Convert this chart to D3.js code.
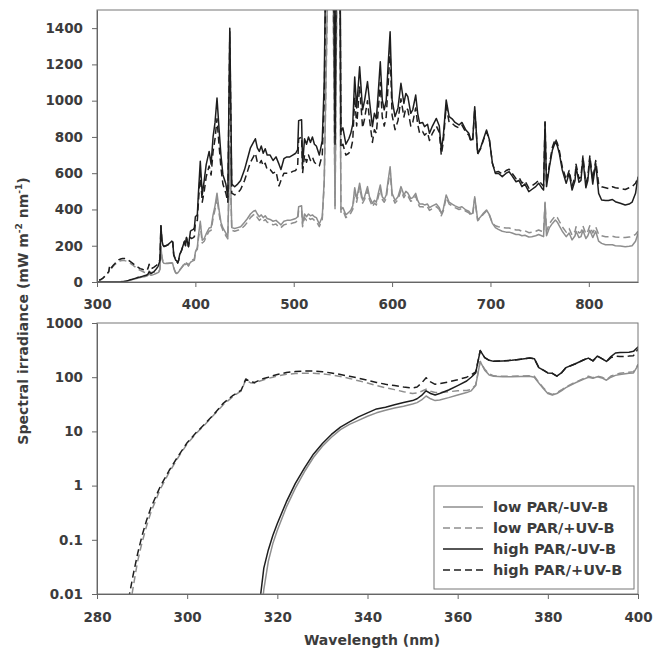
<!DOCTYPE html>
<html>
<head>
<meta charset="utf-8">
<script src="https://cdn.jsdelivr.net/npm/d3@7"></script>
<style>
body { margin: 0; background: #fff; }
svg text { font-family: "DejaVu Sans", sans-serif; font-weight: bold; fill: #3c3c3c; }
.tick text { font-size: 13.5px; }
.axis path, .axis line { stroke: #666; }
</style>
</head>
<body>
<svg id="chart" width="654" height="656"></svg>
<script>
// series, in legend order
var seriesNames = ["low PAR/-UV-B", "low PAR/+UV-B", "high PAR/-UV-B", "high PAR/+UV-B"];

// UV part of the spectra (nm), used by both panels
var uvWavelength = [
  280, 285, 287, 288, 289, 290, 291, 292, 294, 296,
  298, 300, 302, 304, 306, 308, 310, 311, 312, 313,
  314, 315, 316, 317, 318, 319, 320, 322, 324, 326,
  328, 330, 332, 334, 336, 338, 340, 342, 344, 346,
  348, 350, 351, 352, 353, 354, 355, 356, 358, 360,
  362, 363, 364, 365, 366, 367, 368, 370, 372, 374,
  376, 377, 378, 379, 380, 381, 382, 383, 384, 386,
  388, 389, 390, 391, 392, 393, 394, 395, 396, 398,
  399, 400];

var uvLowMinus = [
  0, 0, 0, 0, 0, 0, 0, 0, 0, 0,
  0, 0, 0, 0, 0, 0, 0, 0, 0, 0,
  0, 0, 0.002, 0.012, 0.04, 0.085, 0.15, 0.4, 0.9, 1.8,
  3.3, 5.3, 7.8, 10.8, 13.5, 16, 19, 22, 24.5, 27,
  29, 32, 34, 38, 45, 40, 37, 38, 42, 47,
  52, 56, 70, 195, 135, 110, 104, 102, 102, 103,
  104, 100, 78, 62, 50, 47, 50, 56, 64, 78,
  92, 100, 96, 102, 97, 88, 100, 108, 112, 118,
  120, 165];

var uvLowPlus = [
  0, 0, 0.004, 0.013, 0.04, 0.09, 0.18, 0.33, 0.85, 1.75,
  3.3, 5.9, 9.2, 13.5, 20.5, 31, 43, 49, 56, 90,
  79, 77, 84, 90, 95, 100, 105, 113, 117, 118,
  118, 115, 110, 103, 95, 86, 78, 70, 64, 59,
  54, 50, 51, 55, 60, 55, 52, 52, 54, 56,
  57, 59, 72, 195, 140, 115, 106, 104, 104, 105,
  106, 104, 80, 64, 52, 48, 52, 58, 66, 80,
  95, 104, 98, 105, 100, 90, 105, 112, 118, 124,
  126, 170];

var uvHighMinus = [
  0, 0, 0, 0, 0, 0, 0, 0, 0, 0,
  0, 0, 0, 0, 0, 0, 0, 0, 0, 0,
  0, 0, 0.006, 0.03, 0.065, 0.12, 0.2, 0.5, 1.1, 2.1,
  3.8, 6, 8.8, 12, 15, 18.5, 22, 26, 28, 31,
  34, 37, 40, 46, 56, 50, 47, 50, 58, 70,
  85, 100, 120, 310, 230, 205, 196, 200, 205, 215,
  225, 220, 150, 135, 120, 118, 105, 120, 150, 175,
  210, 225, 200, 245, 220, 195, 240, 280, 285, 290,
  300, 360];

var uvHighPlus = [
  0, 0, 0.008, 0.022, 0.055, 0.12, 0.23, 0.4, 0.95, 1.9,
  3.5, 6.2, 9.5, 14, 21, 33, 45, 51, 58, 93,
  82, 80, 88, 95, 100, 106, 112, 122, 127, 130,
  130, 126, 120, 112, 104, 96, 88, 80, 74, 70,
  66, 63, 66, 78, 98, 82, 74, 76, 82, 90,
  100, 110, 125, 310, 230, 205, 196, 200, 205, 215,
  225, 220, 150, 135, 120, 118, 105, 120, 150, 175,
  210, 225, 200, 245, 220, 195, 230, 245, 240, 245,
  250, 330];

// visible part (nm), top panel only
var visWavelength = [
  402, 403, 405, 407, 409, 411, 414, 416, 418, 420,
  422, 424, 426, 428, 431, 433, 435, 437, 440, 443,
  446, 450, 453, 456, 459, 461, 463, 465, 467, 469,
  471, 473, 476, 479, 482, 485, 487, 490, 493, 496,
  499, 502, 504, 505, 508, 509, 511, 513, 515, 517,
  519, 521, 523, 526, 529, 531, 534, 537, 540, 542,
  544, 546, 548, 550, 553, 556, 558, 560, 562, 564,
  567, 570, 572, 575, 577, 580, 582, 584, 586, 588,
  590, 592, 594, 596, 598, 600, 603, 606, 609, 612,
  614, 616, 619, 621, 624, 626, 628, 631, 633, 636,
  638, 641, 645, 648, 650, 652, 655, 658, 661, 664,
  668, 671, 675, 678, 680, 682, 684, 687, 690, 693,
  696, 699, 702, 705, 708, 712, 716, 719, 722, 726,
  729, 732, 735, 739, 742, 746, 749, 752, 754, 755.5,
  757, 760, 763, 766, 768, 770, 773, 777, 780, 783,
  786, 787, 790, 792, 794, 797, 799, 801, 804, 807,
  810, 813, 817, 820, 824, 827, 832, 837, 841, 844,
  847.5, 850];

var visLowMinus = [
  190, 250, 335, 230, 240, 265, 298, 300, 370, 420,
  490, 400, 330, 298, 270, 250, 750, 300, 295, 300,
  305, 330, 350, 375, 390, 395, 375, 360, 370, 355,
  365, 350, 345, 335, 340, 325, 315, 335, 340, 340,
  345, 350, 360, 415, 420, 320, 375, 360, 375, 365,
  370, 360, 355, 320, 360, 560, 1500, 2400, 1700, 420,
  1800, 2400, 400, 410, 370, 385, 395, 420, 520, 460,
  545, 452, 470, 526, 470, 434, 450, 440, 490, 535,
  470, 455, 480, 560, 636, 489, 450, 470, 526, 480,
  500, 490, 460, 465, 489, 450, 430, 430, 425, 430,
  410, 420, 430, 410, 378, 400, 480, 440, 430, 420,
  410, 415, 397, 390, 375, 380, 470, 342, 360, 380,
  397, 370, 323, 300, 290, 280, 275, 275, 270, 262,
  262, 255, 258, 248, 250, 255, 262, 255, 250, 434,
  255, 300, 323, 342, 330, 310, 280, 250, 270, 232,
  255, 280, 245, 250, 285, 240, 255, 285, 245, 280,
  225, 213, 205, 205, 205, 200, 198, 195, 197, 200,
  225, 268];

var visLowPlus = [
  180, 235, 315, 215, 225, 250, 280, 285, 350, 400,
  465, 380, 315, 285, 255, 238, 730, 285, 280, 285,
  290, 310, 330, 355, 370, 375, 355, 340, 350, 335,
  345, 330, 325, 315, 320, 300, 300, 315, 320, 320,
  325, 330, 340, 395, 400, 305, 355, 340, 355, 345,
  350, 340, 335, 305, 345, 540, 1450, 2300, 1600, 400,
  1700, 2300, 385, 395, 355, 370, 380, 400, 500, 440,
  525, 435, 455, 505, 455, 415, 435, 425, 470, 515,
  455, 440, 460, 540, 615, 470, 435, 455, 505, 465,
  485, 475, 445, 450, 475, 435, 415, 415, 410, 415,
  395, 405, 415, 400, 365, 390, 465, 430, 420, 410,
  400, 405, 390, 382, 368, 372, 460, 338, 355, 375,
  392, 368, 325, 310, 305, 300, 298, 298, 293, 287,
  287, 280, 283, 272, 275, 280, 287, 280, 275, 440,
  280, 322, 345, 365, 355, 335, 305, 275, 295, 258,
  280, 305, 270, 275, 310, 265, 280, 310, 270, 305,
  262, 255, 250, 250, 252, 248, 247, 245, 248, 250,
  262, 280];

var visHighMinus = [
  371, 480, 666, 482, 560, 647, 720, 650, 800, 880,
  1015, 850, 700, 592, 540, 470, 1400, 540, 525, 540,
  560, 620, 680, 740, 770, 790, 740, 720, 750, 710,
  735, 700, 700, 670, 690, 650, 620, 680, 690, 690,
  700, 710, 730, 890, 895, 650, 790, 760, 800, 770,
  800, 760, 750, 700, 780, 1100, 2400, 3000, 2400, 800,
  2500, 3000, 830, 850, 760, 790, 820, 870, 1130, 960,
  1187, 950, 1000, 1105, 1000, 857, 930, 900, 1050, 1215,
  1004, 950, 1000, 1200, 1380, 1004, 912, 960, 1096, 985,
  1040, 1022, 930, 950, 1031, 930, 875, 880, 857, 870,
  820, 860, 902, 860, 728, 800, 1004, 912, 900, 880,
  866, 880, 838, 820, 783, 790, 967, 710, 740, 790,
  838, 783, 654, 599, 600, 581, 600, 608, 585, 553,
  560, 526, 540, 498, 510, 526, 545, 520, 507, 884,
  526, 636, 728, 774, 750, 710, 618, 544, 599, 507,
  560, 636, 550, 560, 682, 520, 560, 682, 540, 654,
  489, 452, 450, 450, 455, 443, 434, 425, 430, 440,
  489, 581];

var visHighPlus = [
  340, 430, 600, 440, 500, 580, 640, 590, 720, 790,
  900, 760, 630, 540, 490, 440, 1380, 490, 480, 490,
  510, 560, 610, 660, 690, 710, 660, 650, 670, 640,
  655, 620, 620, 600, 610, 530, 560, 600, 600, 600,
  610, 615, 640, 790, 800, 600, 700, 660, 700, 670,
  690, 660, 650, 640, 700, 1000, 2300, 2900, 2300, 750,
  2400, 2900, 740, 760, 700, 710, 730, 780, 1020, 860,
  1080, 850, 900, 1000, 900, 770, 840, 820, 950, 1100,
  910, 860, 910, 1090, 1280, 920, 840, 890, 1010, 910,
  960, 950, 860, 880, 960, 870, 820, 830, 810, 825,
  780, 820, 860, 825, 700, 770, 970, 880, 875, 860,
  850, 865, 825, 810, 775, 780, 955, 705, 735, 785,
  830, 780, 655, 605, 610, 595, 615, 622, 600, 570,
  578, 545, 558, 518, 530, 545, 562, 540, 528, 880,
  545, 650, 745, 790, 765, 725, 635, 565, 615, 530,
  580, 650, 570, 580, 695, 545, 580, 695, 565, 670,
  540, 525, 520, 515, 525, 520, 515, 510, 520, 525,
  545, 575];

// tick labels
var topXTicks = [300, 400, 500, 600, 700, 800];
var topYTicks = [0, 200, 400, 600, 800, 1000, 1200, 1400];
var botXTicks = [280, 300, 320, 340, 360, 380, 400];
var botYTicks = [0.01, 0.1, 1, 10, 100, 1000];

var seriesColor = ["#8e8e8e", "#8e8e8e", "#1e1e1e", "#1e1e1e"];
var seriesDash = [null, "7,4", null, "7,4"];

var wavelength = uvWavelength.concat(visWavelength);
var seriesValues = [
  uvLowMinus.concat(visLowMinus),
  uvLowPlus.concat(visLowPlus),
  uvHighMinus.concat(visHighMinus),
  uvHighPlus.concat(visHighPlus)
];
var series = seriesNames.map(function(name, i) {
  return {
    name: name, color: seriesColor[i], dash: seriesDash[i],
    values: wavelength.map(function(w, j) { return {w: w, v: seriesValues[i][j]}; })
  };
});

var svg = d3.select("#chart");
var left = 97, right = 638;

var xTop = d3.scaleLinear().domain([300, 850]).range([left, right]);
var yTop = d3.scaleLinear().domain([0, 1500]).range([282, 10]);
var xBot = d3.scaleLinear().domain([280, 400]).range([left, right]);
var yBot = d3.scaleLog().domain([0.01, 1000]).range([594, 323]);

var defs = svg.append("defs");
defs.append("clipPath").attr("id", "clipTop").append("rect")
  .attr("x", left).attr("y", 10).attr("width", right - left).attr("height", 272);
defs.append("clipPath").attr("id", "clipBot").append("rect")
  .attr("x", left).attr("y", 323).attr("width", right - left).attr("height", 271);

function drawPanel(x, y, clipId, useLog) {
  var line = d3.line()
    .defined(function(d) { return !useLog || d.v > 0; })
    .x(function(d) { return x(d.w); })
    .y(function(d) { return y(d.v); });

  var g = svg.append("g").attr("clip-path", "url(#" + clipId + ")");
  g.selectAll("path")
    .data(series)
    .enter().append("path")
    .attr("fill", "none")
    .attr("stroke", function(d) { return d.color; })
    .attr("stroke-width", 1.5)
    .attr("stroke-dasharray", function(d) { return d.dash; })
    .attr("stroke-linejoin", "round")
    .attr("d", function(d) { return line(d.values); });

  // box
  svg.append("rect")
    .attr("x", left).attr("y", y.range()[1])
    .attr("width", right - left).attr("height", y.range()[0] - y.range()[1])
    .attr("fill", "none").attr("stroke", "#777").attr("stroke-width", 1);
}

drawPanel(xTop, yTop, "clipTop", false);
drawPanel(xBot, yBot, "clipBot", true);

function styleAxis(g) {
  g.attr("font-size", null).attr("font-family", null);
}
var plain = function(d) { return String(d); };

svg.append("g").attr("class", "axis")
  .attr("transform", "translate(0,282)")
  .call(d3.axisBottom(xTop).tickValues(topXTicks).tickFormat(plain)
    .tickSize(5).tickSizeOuter(0).tickPadding(12))
  .call(styleAxis);
svg.append("g").attr("class", "axis")
  .attr("transform", "translate(" + left + ",0)")
  .call(d3.axisLeft(yTop).tickValues(topYTicks).tickFormat(plain)
    .tickSize(5).tickSizeOuter(0).tickPadding(9))
  .call(styleAxis);
svg.append("g").attr("class", "axis")
  .attr("transform", "translate(0,594)")
  .call(d3.axisBottom(xBot).tickValues(botXTicks).tickFormat(plain)
    .tickSize(5).tickSizeOuter(0).tickPadding(13))
  .call(styleAxis);
svg.append("g").attr("class", "axis")
  .attr("transform", "translate(" + left + ",0)")
  .call(d3.axisLeft(yBot).tickValues(botYTicks).tickFormat(plain)
    .tickSize(5).tickSizeOuter(0).tickPadding(9))
  .call(styleAxis);

// axis titles
svg.append("text")
  .attr("x", 372).attr("y", 645)
  .attr("text-anchor", "middle")
  .style("font-size", "14px")
  .text("Wavelength (nm)");

var yTitle = svg.append("text")
  .attr("transform", "translate(28,311) rotate(-90)")
  .attr("text-anchor", "middle")
  .style("font-size", "14px");
yTitle.append("tspan").text("Spectral irradiance (mW m");
yTitle.append("tspan").attr("dy", -6).style("font-size", "9px").text("-2");
yTitle.append("tspan").attr("dy", 6).text(" nm");
yTitle.append("tspan").attr("dy", -6).style("font-size", "9px").text("-1");
yTitle.append("tspan").attr("dy", 6).text(")");

// legend
var legend = svg.append("g").attr("transform", "translate(434,486)");
legend.append("rect")
  .attr("width", 200).attr("height", 103)
  .attr("fill", "#fff").attr("stroke", "#777");
var item = legend.selectAll("g.item")
  .data(series)
  .enter().append("g")
  .attr("class", "item")
  .attr("transform", function(d, i) { return "translate(0," + (21 + i * 21) + ")"; });
item.append("line")
  .attr("x1", 9).attr("x2", 49)
  .attr("stroke", function(d) { return d.color; })
  .attr("stroke-width", 1.5)
  .attr("stroke-dasharray", function(d) { return d.dash; });
item.append("text")
  .attr("x", 59).attr("dy", "0.36em")
  .style("font-size", "14.5px")
  .text(function(d) { return d.name; });
</script>
</body>
</html>
